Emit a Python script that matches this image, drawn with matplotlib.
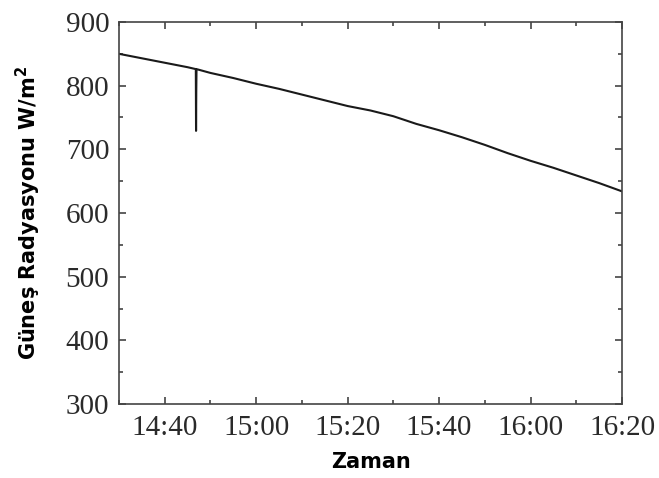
import matplotlib
matplotlib.use("Agg")
import matplotlib.pyplot as plt
from matplotlib.ticker import MultipleLocator, FuncFormatter

# Time in minutes after 14:30, radiation in W/m2
minutes = [0, 5, 10, 15, 16.8, 16.85, 16.9, 16.95, 20, 25, 30, 35, 40, 45, 50, 55,
           60, 65, 70, 75, 80, 85, 90, 95, 100, 105, 110]
radiation = [850, 843, 836, 829, 826, 729, 792, 826, 820, 812, 803, 795, 786, 777, 768, 761,
             752, 740, 730, 719, 707, 694, 682, 671, 659, 647, 634]
start_minute_of_day = 14 * 60 + 30
x_tick_labels = ["14:40", "15:00", "15:20", "15:40", "16:00", "16:20"]

x = [start_minute_of_day + m for m in minutes]

plt.rcParams['font.family'] = ['Liberation Serif', 'DejaVu Sans']

fig = plt.figure(figsize=(6.59, 4.78), dpi=100)
ax = fig.add_axes([119/659, 1 - 404/478, (622 - 119)/659, (404 - 22)/478])

ax.plot(x, radiation, color='#1a1a1a', lw=1.5)

ax.set_xlim(14*60 + 30, 16*60 + 20)
ax.set_ylim(300, 900)

def hhmm(v, pos):
    v = int(round(v))
    return f"{v // 60}:{v % 60:02d}"

ax.xaxis.set_major_locator(MultipleLocator(20))
ax.xaxis.set_major_formatter(FuncFormatter(hhmm))
ax.xaxis.set_minor_locator(MultipleLocator(10))
ax.yaxis.set_major_locator(MultipleLocator(100))
ax.yaxis.set_minor_locator(MultipleLocator(50))

for s in ax.spines.values():
    s.set_color('#444444')
    s.set_linewidth(1.2)

ax.tick_params(which='both', direction='in', top=True, right=True, colors='#444444',
               labelcolor='#2a2a2a', labelsize=21, width=1.2)
ax.tick_params(which='major', length=5)
ax.tick_params(which='minor', length=3)
ax.tick_params(axis='x', pad=8)
ax.tick_params(axis='y', pad=7)

ax.set_xlabel("Zaman", family='DejaVu Sans', fontweight='bold', fontsize=15, labelpad=8)
ax.set_ylabel(r"Güneş Radyasyonu W/m$^\mathbf{2}$", family='DejaVu Sans', fontweight='bold',
              fontsize=15, labelpad=16)

fig.savefig("out.png", dpi=100)
